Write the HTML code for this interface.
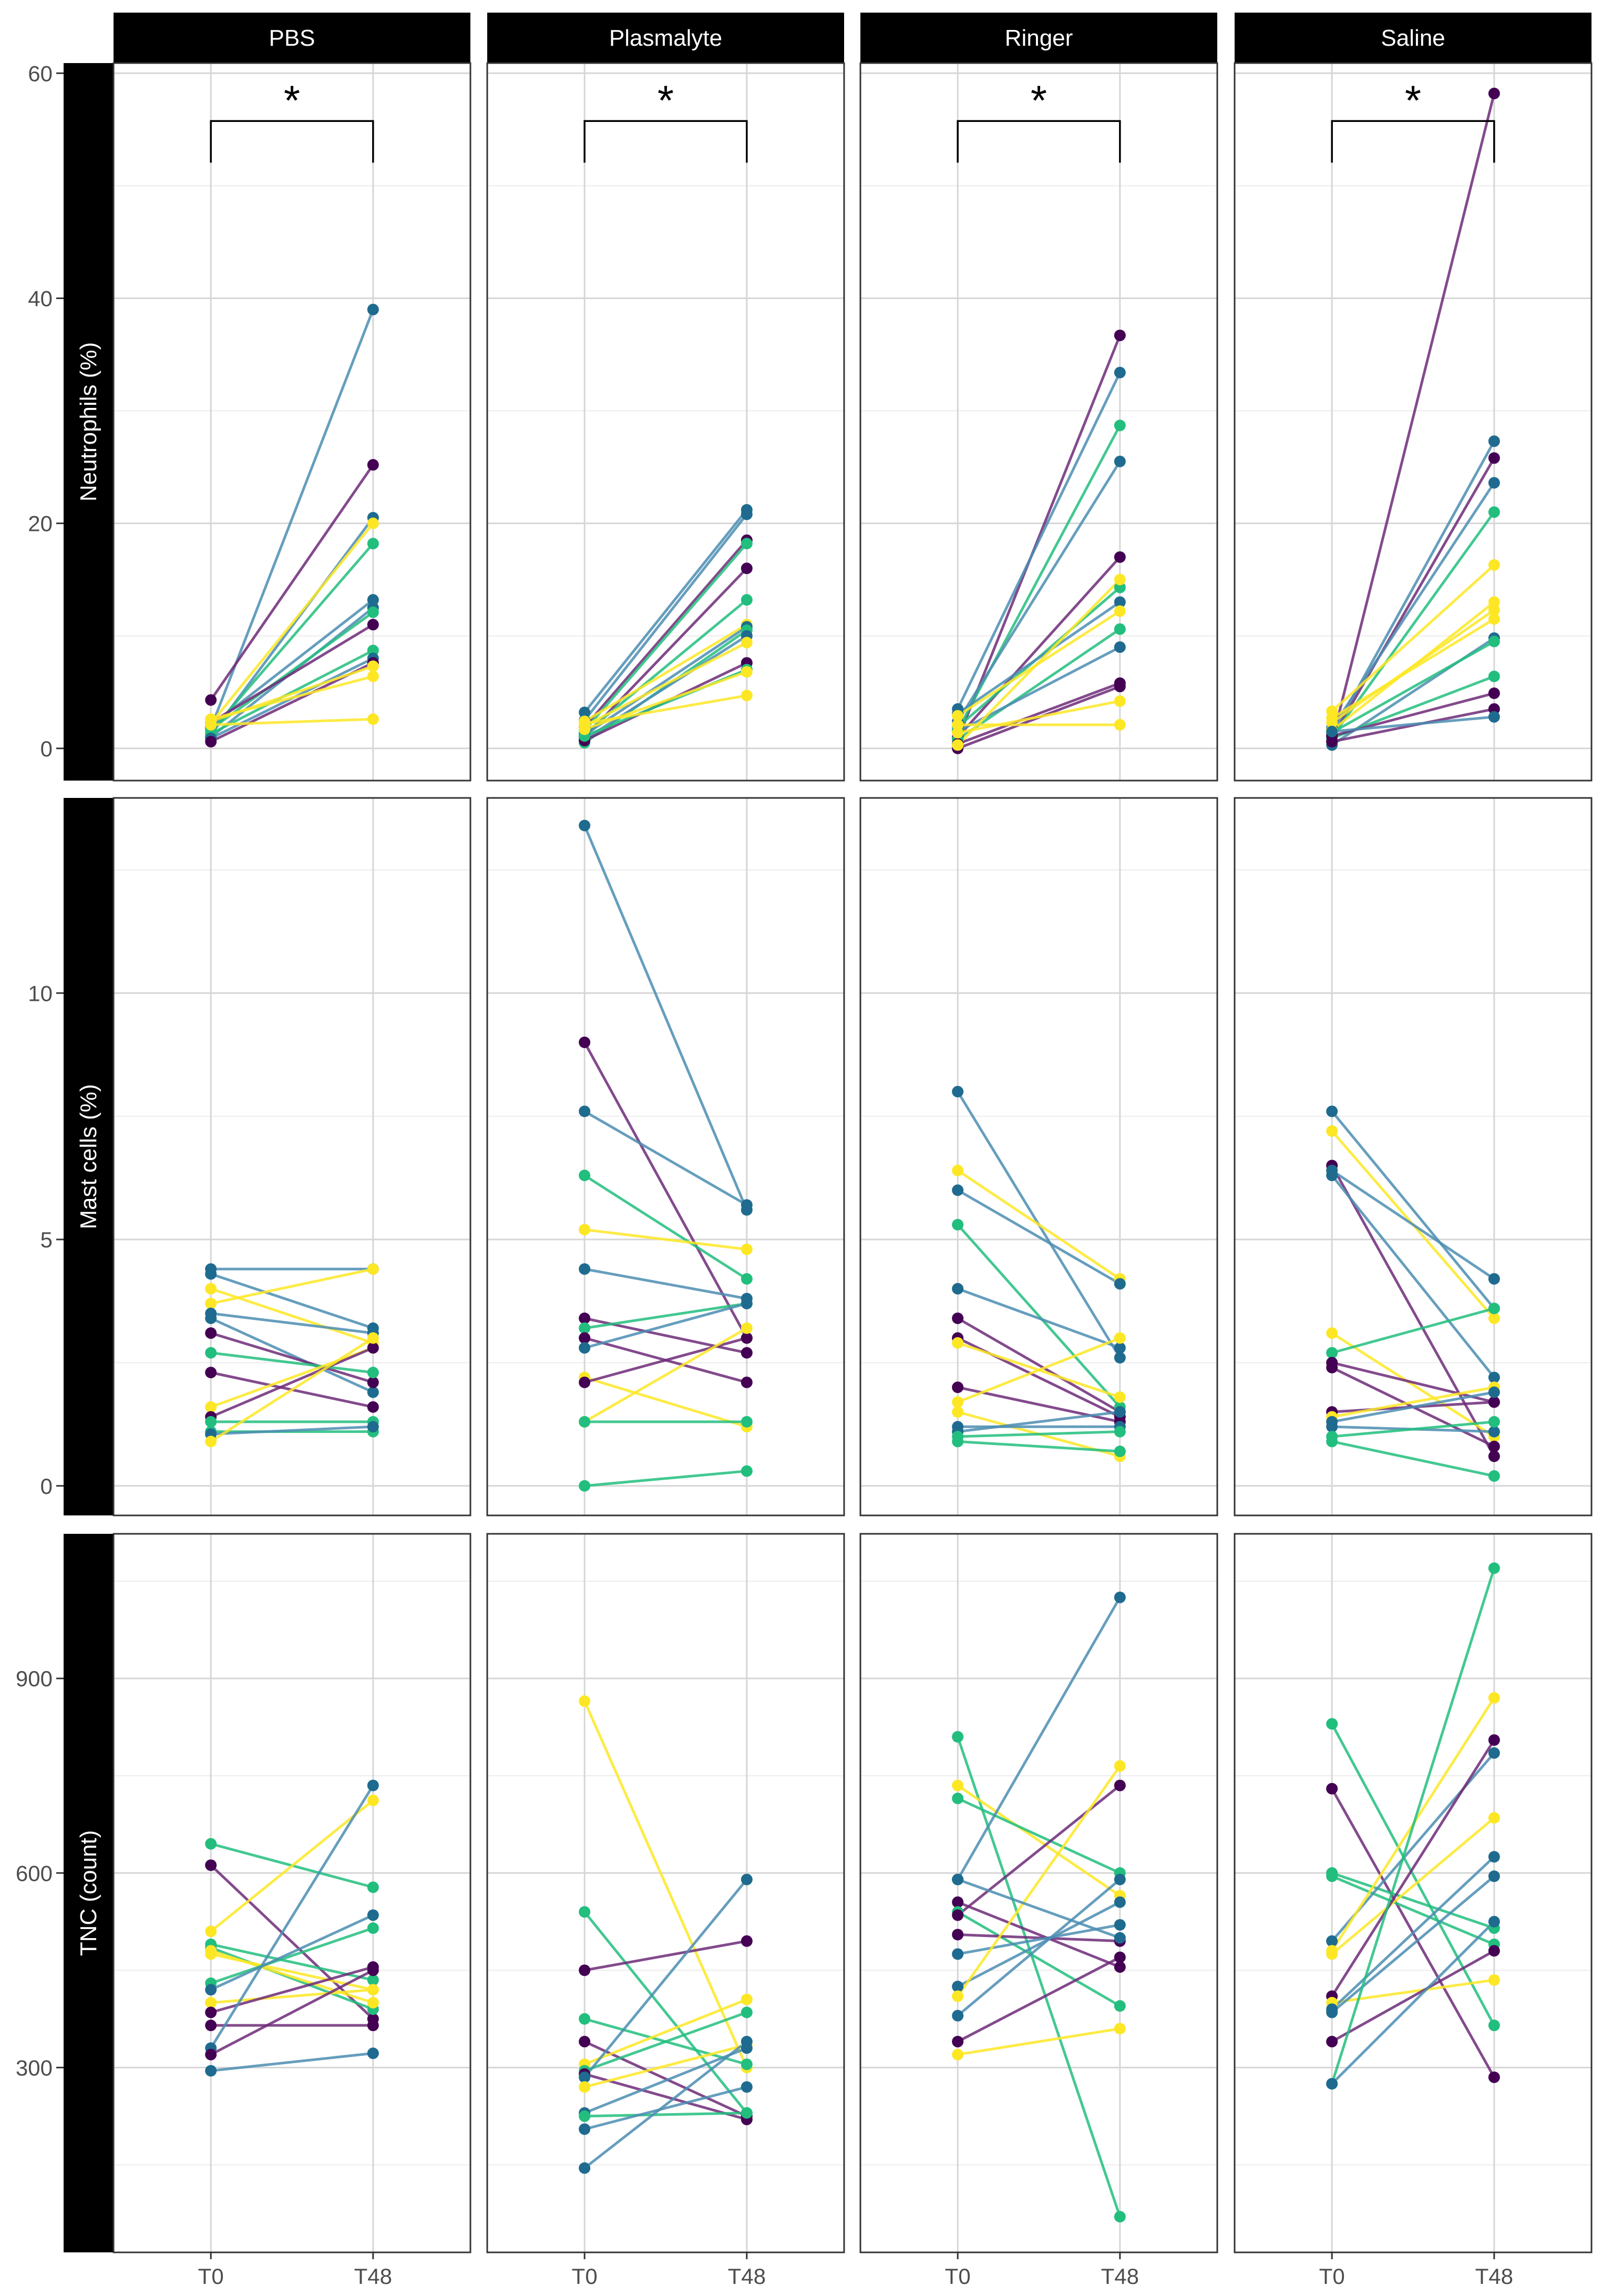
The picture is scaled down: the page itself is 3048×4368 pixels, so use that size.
<!DOCTYPE html>
<html><head><meta charset="utf-8">
<style>
html,body{margin:0;padding:0;background:#fff;}
svg{display:block;font-family:"Liberation Sans",Arial,sans-serif;}
</style></head>
<body>
<svg id="chart" width="3048" height="4368" viewBox="0 0 3048 4368" xmlns="http://www.w3.org/2000/svg"></svg>
<script>
// ---- data ----
const facets = ["PBS","Plasmalyte","Ringer","Saline"];
const rowTitles = ["Neutrophils (%)","Mast cells (%)","TNC (count)"];
const timepoints = ["T0","T48"];
const colorNames = ["purple","blue","green","yellow"];
const neutTicks = [0,20,40,60];
const mastTicks = [0,5,10];
const tncTicks = [300,600,900];
// color group index per subject (0 purple, 1 blue, 2 green, 3 yellow)
const neutGroups = [
 [1,0,1,3,2,1,1,2,0,2,1,0,3,3,3],
 [1,1,0,2,0,2,3,1,2,1,3,0,2,3,3],
 [0,1,2,1,0,2,1,3,2,1,0,0,3,3,3],
 [0,1,0,1,2,3,3,3,3,1,2,2,0,0,1]];
const neutT0 = [
 [1.8,4.3,1.2,2.2,1.5,2.0,1.0,1.7,2.3,1.3,0.9,0.6,2.4,2.6,2.1],
 [3.2,2.5,1.9,1.6,1.0,1.3,2.4,1.2,0.5,0.8,2.0,0.7,1.1,1.7,2.2],
 [0.8,3.5,1.6,2.4,1.0,1.9,3.1,2.9,0.8,1.5,0.4,0.0,1.4,2.1,0.3],
 [0.6,1.2,0.9,1.8,1.0,3.3,1.6,2.3,2.7,0.3,1.4,0.9,1.1,0.6,1.5]];
const neutT48 = [
 [39,25.2,20.5,20,18.2,13.2,12.5,12.1,11,8.7,8,7.6,7.3,6.4,2.6],
 [21.2,20.8,18.5,18.2,16,13.2,11,10.8,10.5,10,9.4,7.6,7,6.8,4.7],
 [36.7,33.4,28.7,25.5,17,14.3,13,12.2,10.6,9,5.8,5.5,4.2,2.1,15],
 [58.2,27.3,25.8,23.6,21,16.3,13,12.3,11.5,9.8,9.5,6.4,4.9,3.5,2.8]];
const mastGroups = [
 [1,1,3,3,1,1,0,2,0,3,0,2,2,1,3],
 [1,0,1,2,3,1,0,2,0,1,3,0,3,2,2],
 [1,3,1,2,1,0,0,3,0,3,3,1,1,2,2],
 [1,3,0,1,1,3,2,0,0,0,3,1,1,2,2]];
const mastT0 = [
 [4.4,4.3,4.0,3.7,3.5,3.4,3.1,2.7,2.3,1.6,1.4,1.3,1.1,1.05,0.9],
 [13.4,9.0,7.6,6.3,5.2,4.4,3.4,3.2,3.0,2.8,2.2,2.1,1.3,1.3,0.0],
 [8.0,6.4,6.0,5.3,4.0,3.4,3.0,2.9,2.0,1.7,1.5,1.2,1.1,1.0,0.9],
 [7.6,7.2,6.5,6.4,6.3,3.1,2.7,2.5,2.4,1.5,1.4,1.3,1.2,1.0,0.9]];
const mastT48 = [
 [4.4,3.2,2.9,4.4,3.1,1.9,2.1,2.3,1.6,2.8,2.8,1.3,1.1,1.2,3.0],
 [5.6,3.0,5.7,4.2,4.8,3.8,2.7,3.7,2.1,3.7,1.2,3.0,3.2,1.3,0.3],
 [2.6,4.2,4.1,1.6,2.8,1.5,1.4,1.8,1.3,3.0,0.6,1.2,1.5,1.1,0.7],
 [3.6,3.4,0.6,4.2,2.2,1.0,3.6,1.7,0.8,1.7,2.0,1.9,1.1,1.3,0.2]];
const tncGroups = [
 [2,0,3,2,2,3,3,2,1,3,0,0,1,0,1],
 [3,2,0,2,0,3,2,0,1,3,1,2,1,1],
 [2,3,2,1,0,2,0,0,1,1,3,1,0,3,1],
 [2,0,2,2,1,3,3,0,3,1,1,0,2,1]];
const tncT0 = [
 [645,612,510,490,485,480,475,430,420,400,385,365,330,320,295],
 [865,540,450,375,340,305,295,290,285,270,230,225,205,145],
 [810,735,715,590,555,540,535,505,475,425,410,380,340,320,590],
 [830,730,600,595,495,480,475,410,400,390,385,340,275,275]];
const tncT48 = [
 [578,375,712,435,390,400,420,515,535,420,455,365,735,450,322],
 [300,230,495,305,225,405,385,220,590,335,330,230,270,340],
 [70,565,600,1025,455,395,735,495,520,555,765,590,470,360,500],
 [365,285,515,490,785,870,685,805,435,625,595,480,1070,525]];
const sigLabel = "*";

// ---- layout ----
const svg = document.getElementById('chart');
const NS = 'http://www.w3.org/2000/svg';
const panelLeft = [216,927,1637,2349];
const panelW = 679;
const rows = [
 {top:120,bottom:1485,min:-2.86,max:60.9,ticks:neutTicks,minor:[10,30,50],groups:neutGroups,t0:neutT0,t48:neutT48},
 {top:1518,bottom:2883,min:-0.6,max:13.96,ticks:mastTicks,minor:[2.5,7.5,12.5],groups:mastGroups,t0:mastT0,t48:mastT48},
 {top:2918,bottom:4285,min:15,max:1123,ticks:tncTicks,minor:[150,450,750,1050],groups:tncGroups,t0:tncT0,t48:tncT48}];
const ptCol = ["#440154","#1f6b8f","#22be7e","#fde725"];
const lnCol = ["#6d2a78","#4b8db2","#22be7e","#fde725"];

function el(tag, attrs, parent){
  const e = document.createElementNS(NS, tag);
  for (const k in attrs) e.setAttribute(k, attrs[k]);
  (parent||svg).appendChild(e);
  return e;
}
function yScale(r, v){ return r.bottom - (v - r.min)/(r.max - r.min)*(r.bottom - r.top); }
function xScale(c, i){ return panelLeft[c] + panelW*(0.6 + i)/2.2; }

// column strips
facets.forEach((f,c)=>{
  const s = el('rect',{x:panelLeft[c],y:24,width:panelW,height:96,fill:'#000'});
  
  
  const t = el('text',{x:panelLeft[c]+panelW/2,y:87,'text-anchor':'middle','font-size':44,fill:'#fff'});
  t.textContent = f;
  
  
});

rows.forEach((r,ri)=>{
  // row strip
  const rs = el('rect',{x:121,y:r.top,width:95,height:r.bottom-r.top,fill:'#000'});
  
  
  const cy = (r.top+r.bottom)/2;
  const rt = el('text',{x:183,y:cy,'text-anchor':'middle','font-size':44,fill:'#fff',transform:'rotate(-90 183 '+cy+')'});
  rt.textContent = rowTitles[ri];
  
  
  // y ticks
  r.ticks.forEach(v=>{
    const y = yScale(r,v);
    const tk = el('line',{x1:107,x2:121,y1:y,y2:y,stroke:'#333','stroke-width':3});
    
    
    const tl = el('text',{x:100,y:y+15,'text-anchor':'end','font-size':42,fill:'#4d4d4d'});
    tl.textContent = v;
    
    
  });
  facets.forEach((f,c)=>{
    const g = el('g',{});
    
    
    el('rect',{x:panelLeft[c],y:r.top,width:panelW,height:r.bottom-r.top,fill:'#fff'},g);
    r.minor.forEach(v=>{ const y=yScale(r,v); if(y>r.top&&y<r.bottom){
      const gl = el('line',{x1:panelLeft[c],x2:panelLeft[c]+panelW,y1:y,y2:y,stroke:'#ececec','stroke-width':2},g);
      
      }});
    r.ticks.forEach(v=>{ const y=yScale(r,v);
      const gl = el('line',{x1:panelLeft[c],x2:panelLeft[c]+panelW,y1:y,y2:y,stroke:'#d6d6d6','stroke-width':3},g);
      
      });
    [0,1].forEach(i=>{ const x=xScale(c,i);
      const gl = el('line',{x1:x,x2:x,y1:r.top,y2:r.bottom,stroke:'#d6d6d6','stroke-width':3},g);
      
      });
    const grp = r.groups[c], a = r.t0[c], b = r.t48[c];
    for(let k=0;k<a.length;k++){
      const ln = el('line',{x1:xScale(c,0),y1:yScale(r,a[k]),x2:xScale(c,1),y2:yScale(r,b[k]),stroke:lnCol[grp[k]],'stroke-width':5,'stroke-opacity':0.85},g);
      
      
    }
    for(let k=0;k<a.length;k++){
      [a[k],b[k]].forEach((v,i)=>{
        const p = el('circle',{cx:xScale(c,i),cy:yScale(r,v),r:11,fill:ptCol[grp[k]]},g);
        
        
      });
    }
    if(ri===0){
      const x0=xScale(c,0), x1=xScale(c,1), yb=yScale(r,55.75), ye=yScale(r,52.05);
      const br = el('polyline',{points:`${x0},${ye} ${x0},${yb} ${x1},${yb} ${x1},${ye}`,fill:'none',stroke:'#000','stroke-width':3.5},g);
      
      
      const st = el('text',{x:(x0+x1)/2,y:yb-12,'text-anchor':'middle','font-size':80,fill:'#000'},g);
      st.textContent = sigLabel;
      
      
    }
    const bd = el('rect',{x:panelLeft[c],y:r.top,width:panelW,height:r.bottom-r.top,fill:'none',stroke:'#333','stroke-width':3},g);
    
    
  });
});

// x axis
facets.forEach((f,c)=>{
  timepoints.forEach((t,i)=>{
    const x = xScale(c,i);
    const tk = el('line',{x1:x,x2:x,y1:4285,y2:4298,stroke:'#333','stroke-width':3});
    
    
    const tl = el('text',{x:x,y:4345,'text-anchor':'middle','font-size':42,fill:'#4d4d4d'});
    tl.textContent = t;
    
    
  });
});
</script>
</body></html>
